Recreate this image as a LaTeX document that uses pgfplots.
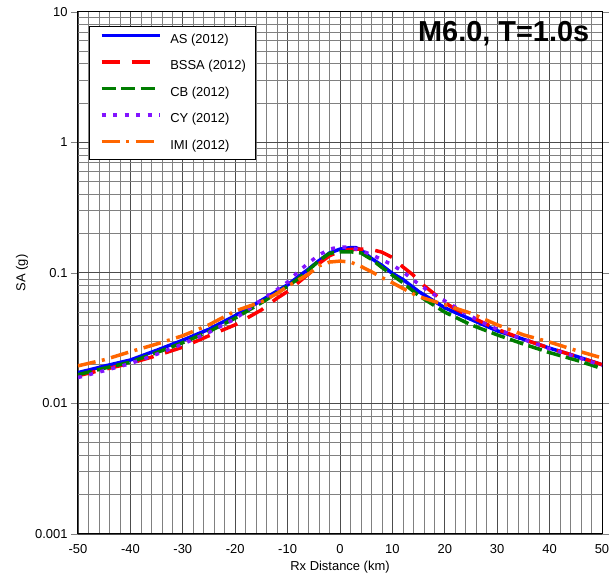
\documentclass[border=0pt]{standalone}
\usepackage{fontspec}
\setmainfont{Liberation Sans}
\usepackage{pgfplots}
\pgfplotsset{compat=1.18}
\definecolor{asblue}{RGB}{0,0,255}
\definecolor{bssared}{RGB}{255,0,0}
\definecolor{cbgreen}{RGB}{0,125,0}
\definecolor{cypurple}{RGB}{130,20,255}
\definecolor{imiorange}{RGB}{255,102,0}
\begin{document}
\begin{tikzpicture}
\begin{axis}[
  scale only axis, width=524bp, height=522.3bp,
  xmin=-50, xmax=50, ymode=log, ymin=0.001, ymax=10,
  xtick={-50,-40,-30,-20,-10,0,10,20,30,40,50},
  xticklabels={-50,-40,-30,-20,-10,0,10,20,30,40,50},
  minor x tick num=4,
  ytick={0.001,0.01,0.1,1,10},
  yticklabels={0.001,0.01,0.1,1,10},
  minor ytick={0.002,0.003,0.004,0.005,0.006,0.007,0.008,0.009,
               0.02,0.03,0.04,0.05,0.06,0.07,0.08,0.09,
               0.2,0.3,0.4,0.5,0.6,0.7,0.8,0.9,
               2,3,4,5,6,7,8,9},
  grid=both,
  major grid style={draw=black!70, line width=0.8bp},
  minor grid style={draw=black!50, line width=0.6bp},
  tick align=outside, major tick length=7bp, minor tick length=0pt,
  x tick style={draw=none},
  axis line style={line width=1bp},
  ticklabel style={font=\fontsize{13}{15}\selectfont},
  label style={font=\fontsize{13}{15}\selectfont},
  xlabel={Rx Distance (km)}, ylabel={SA (g)},
  xlabel style={at={(axis description cs:0.5,-0.0708)}, anchor=base},
  ylabel style={at={(axis description cs:-0.1069,0.5)}, anchor=center},
  legend cell align=left,
  legend image code/.code={\draw[#1] (0bp,4.6bp) -- (58bp,4.6bp);},
  legend style={at={(0.0216,0.9726)}, anchor=north west, draw=black, line width=1bp,
    fill=white, font=\fontsize{13}{15}\selectfont, inner xsep=10bp, inner ysep=7bp,
    row sep=14bp, nodes={inner sep=0pt, text height=9.5bp, text depth=3bp},
    /tikz/every odd column/.append style={column sep=9bp}},
]
\addplot[asblue, line width=3.5bp] coordinates {
(-50,0.0172)(-45,0.0193)(-40,0.0215)(-35,0.0255)(-30,0.0305)(-25,0.0370)(-20,0.0470)(-15,0.0615)(-10,0.081)(-8,0.093)(-6,0.107)(-4,0.124)(-2,0.142)(0,0.152)(2,0.156)(3,0.156)(4,0.150)(6,0.129)(8,0.114)(10,0.099)(12,0.089)(15,0.072)(20,0.054)(25,0.044)(30,0.036)(35,0.031)(40,0.0265)(45,0.0230)(50,0.0198)};
\addlegendentry{AS (2012)}
\addplot[bssared, line width=3.5bp, dash pattern=on 18bp off 12bp] coordinates {
(-50,0.0163)(-45,0.0182)(-40,0.0203)(-35,0.0232)(-30,0.0270)(-25,0.0330)(-20,0.0400)(-15,0.052)(-12,0.064)(-10,0.072)(-8,0.084)(-6,0.098)(-4,0.118)(-2,0.135)(0,0.147)(2,0.151)(4,0.152)(6,0.151)(8,0.144)(10,0.131)(12,0.111)(14,0.096)(16,0.080)(18,0.069)(20,0.059)(22,0.053)(25,0.046)(30,0.037)(35,0.031)(40,0.0265)(45,0.0230)(50,0.0198)};
\addlegendentry{BSSA (2012)}
\addplot[cbgreen, line width=3.5bp, dash pattern=on 14bp off 5.5bp] coordinates {
(-50,0.0166)(-45,0.0186)(-40,0.0207)(-35,0.0245)(-30,0.0292)(-25,0.0355)(-20,0.0450)(-15,0.059)(-10,0.079)(-8,0.090)(-6,0.105)(-4,0.124)(-2,0.141)(0,0.145)(2,0.145)(4,0.142)(6,0.127)(8,0.110)(10,0.096)(12,0.084)(15,0.067)(20,0.050)(25,0.040)(30,0.0335)(35,0.0285)(40,0.0245)(45,0.0215)(50,0.0185)};
\addlegendentry{CB (2012)}
\addplot[cypurple, line width=3.5bp, dash pattern=on 4bp off 7.5bp] coordinates {
(-50,0.0158)(-45,0.0178)(-40,0.0202)(-35,0.0238)(-30,0.0285)(-25,0.0350)(-20,0.0445)(-15,0.062)(-12,0.0745)(-10,0.085)(-8,0.102)(-6,0.119)(-4,0.137)(-2,0.152)(0,0.158)(2,0.157)(4,0.148)(6,0.138)(8,0.126)(10,0.115)(12,0.102)(14,0.088)(16,0.077)(18,0.068)(20,0.061)(24,0.049)(27,0.042)(30,0.037)(35,0.031)(40,0.0262)(45,0.0228)(50,0.0195)};
\addlegendentry{CY (2012)}
\addplot[imiorange, line width=3.5bp, dash pattern=on 18bp off 6.5bp on 3bp off 6.5bp] coordinates {
(-50,0.0194)(-45,0.0216)(-40,0.0249)(-35,0.0285)(-30,0.0330)(-25,0.0400)(-20,0.0510)(-15,0.0600)(-12,0.0695)(-10,0.079)(-8,0.088)(-6,0.098)(-4,0.113)(-2,0.121)(0,0.123)(2,0.121)(4,0.112)(6,0.102)(8,0.092)(10,0.084)(12,0.076)(14,0.069)(16,0.064)(20,0.057)(25,0.049)(30,0.040)(35,0.0335)(40,0.0295)(45,0.0255)(50,0.0223)};
\addlegendentry{IMI (2012)}
\node[anchor=base east, font=\fontsize{29}{34}\selectfont\bfseries] at (rel axis cs:0.9823,0.9426) {M6.0, T=1.0s};
\end{axis}
\pgfresetboundingbox
\path ([shift={(-78bp,-44bp)}]current axis.south west) rectangle ([shift={(8bp,11.7bp)}]current axis.north east);
\end{tikzpicture}
\end{document}
